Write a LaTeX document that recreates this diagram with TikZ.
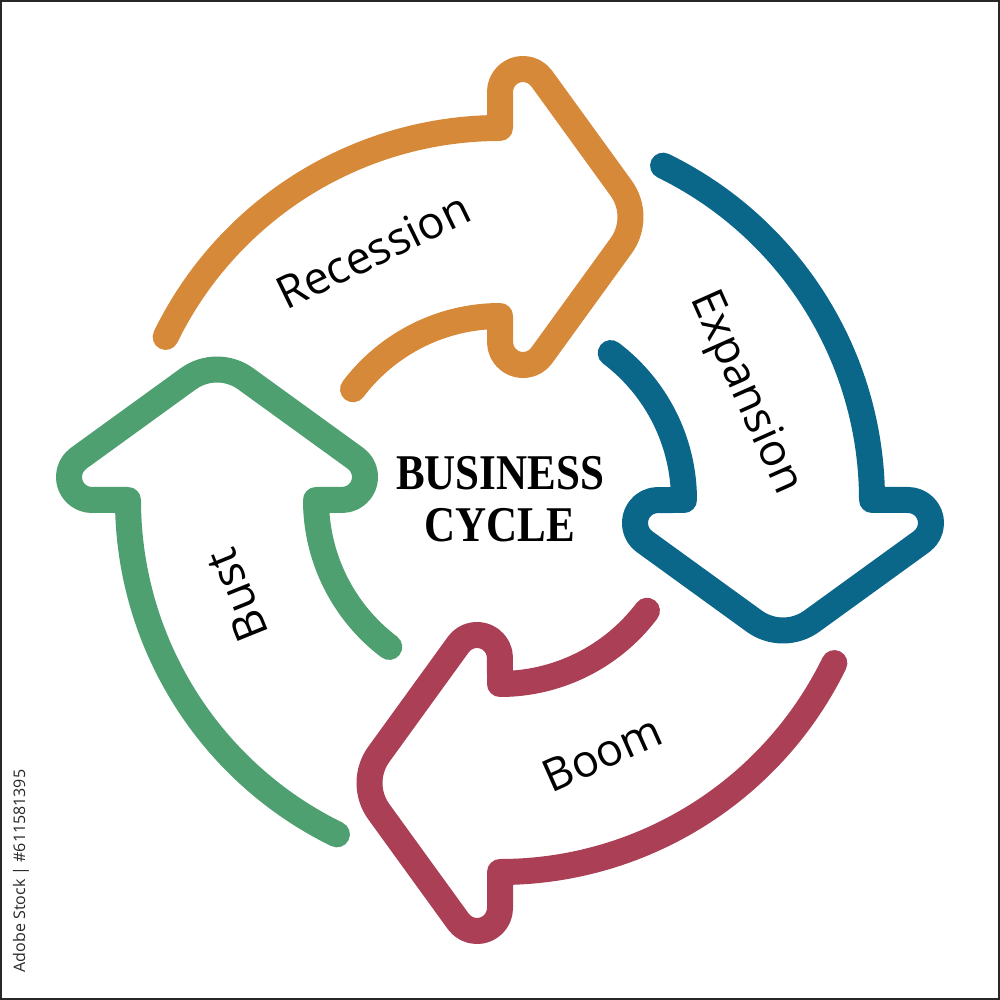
\documentclass[tikz,border=0pt]{standalone}
\usepackage{fontspec}
\setmainfont{Open Sans}
\newfontfamily\titlefont{Liberation Serif}
\definecolor{corange}{RGB}{214,137,56}
\definecolor{cblue}{RGB}{11,103,137}
\definecolor{cred}{RGB}{170,63,86}
\definecolor{cgreen}{RGB}{78,160,113}
\definecolor{cframe}{RGB}{40,40,40}
\newcommand{\cyclepath}{%
  (154:372) arc[start angle=154, end angle=90, radius=372]
  -- (0,408.04) arc[start angle=180, end angle=35.92, radius=23]
  -- (121.17,311.75) arc[start angle=35.92, end angle=-35.92, radius=49]
  -- (41.63,144.46) arc[start angle=-35.92, end angle=-180, radius=23]
  -- (0,184) arc[start angle=90, end angle=143, radius=184]}
\begin{document}
\begin{tikzpicture}[x=1pt,y=1pt,
  arrowline/.style={line width=26pt, line cap=round, line join=round},
  lbl/.style={font=\fontsize{45}{54}\selectfont, text=black, inner sep=0pt},
  ttl/.style={font=\titlefont\bfseries\fontsize{50}{51}\selectfont, text=black, inner sep=0pt}]
\useasboundingbox (-500,-500) rectangle (500,500);
\fill[white] (-500,-500) rectangle (500,500);
\draw[line width=2.5pt, cframe] (-499,-499) rectangle (499,499);
% arrows
\draw[arrowline, corange] \cyclepath;
\begin{scope}[rotate=-90]
\draw[arrowline, cblue] \cyclepath;
\end{scope}
\begin{scope}[rotate=-180]
\draw[arrowline, cred] \cyclepath;
\end{scope}
\begin{scope}[rotate=-270]
\draw[arrowline, cgreen] \cyclepath;
\end{scope}
% labels
\node[lbl, rotate=26] (recession) at (117:280) {Recession};
\node[lbl, rotate=-66] (expansion) at (23.6:267) {Expansion};
\node[lbl, rotate=24] (boom) at (-68:273) {Boom};
\node[lbl, rotate=112] (bust) at (199.9:280) {Bust};
% title
\node[ttl] (business) at (0,26.5) {\scalebox{0.86}[1]{BUSINESS}};
\node[ttl] (cycle) at (0,-25) {\scalebox{0.86}[1]{CYCLE}};
% stock id
\node[font=\fontsize{16}{18}\selectfont, text=cframe, rotate=90, inner sep=0pt] (stockid) at (-479,-371) {Adobe Stock | \#611581395};
\end{tikzpicture}
\end{document}
